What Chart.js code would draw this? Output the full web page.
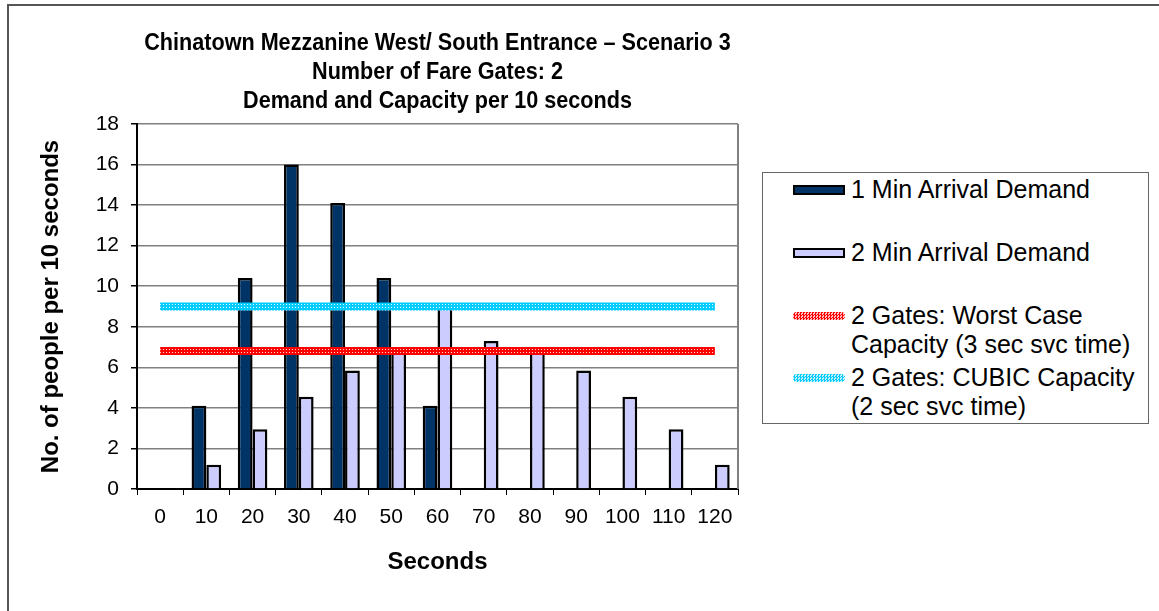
<!DOCTYPE html>
<html>
<head>
<meta charset="utf-8">
<script src="https://cdn.jsdelivr.net/npm/chart.js@4/dist/chart.umd.min.js"></script>
<style>
  html, body { margin: 0; padding: 0; background: #fff; }
  #wrap { position: relative; width: 1159px; height: 611px; overflow: hidden; font-family: "Liberation Sans", Arial, sans-serif; }
  #frame { position: absolute; left: 7px; top: 4px; width: 1200px; height: 700px; border-left: 2px solid #555; border-top: 2px solid #555; box-sizing: border-box; }
  canvas { position: absolute; left: 0; top: 0; }
  #legend { position: absolute; left: 762px; top: 172px; width: 387px; height: 252px; border: 1px solid #666; box-sizing: border-box; background: #fff; }
  .item { position: absolute; left: 30px; font-size: 25px; line-height: 29px; color: #000; white-space: nowrap; }
  .sw { position: absolute; left: 0; width: 52px; height: 10px; box-sizing: border-box; }
  .txt { position: absolute; left: 58px; top: 0; }
</style>
</head>
<body>
<div id="wrap">
  <div id="frame"></div>
  <canvas id="c" width="1159" height="611"></canvas>
  <div id="legend"></div>
</div>
<script>
const titleLines = ["Chinatown Mezzanine West/ South Entrance \u2013 Scenario 3", "Number of Fare Gates: 2", "Demand and Capacity per 10 seconds"];
const categories = ["0","10","20","30","40","50","60","70","80","90","100","110","120"];
const oneMinDemand = [0, 4.1, 10.4, 16, 14.1, 10.4, 4.1, 0, 0, 0, 0, 0, 0];
const twoMinDemand = [0, 1.2, 2.95, 4.55, 5.85, 6.8, 9.15, 7.3, 6.8, 5.85, 4.55, 2.95, 1.2];
const worstCaseCapacity = [6.8, 6.8, 6.8, 6.8, 6.8, 6.8, 6.8, 6.8, 6.8, 6.8, 6.8, 6.8, 6.8];
const cubicCapacity = [9, 9, 9, 9, 9, 9, 9, 9, 9, 9, 9, 9, 9];
const seriesNames = ["1 Min Arrival Demand", "2 Min Arrival Demand", "2 Gates: Worst Case\nCapacity (3 sec svc time)", "2 Gates: CUBIC Capacity\n(2 sec svc time)"];
const yTicks = [0, 2, 4, 6, 8, 10, 12, 14, 16, 18];

function checker(c1, c2) {
  const p = document.createElement('canvas');
  p.width = 3; p.height = 3;
  const g = p.getContext('2d');
  g.fillStyle = c1; g.fillRect(0,0,3,3);
  g.fillStyle = c2; g.fillRect(1,1,1,1);
  return g.createPattern(p, 'repeat');
}
const redPat = checker('#ff0000', '#ffe0e0');
const cyanPat = checker('#00ccff', '#e0f8ff');

const FONT = "'Liberation Sans', Arial, sans-serif";

const titlePlugin = {
  id: 'titleLines',
  afterDraw(chart) {
    const ctx = chart.ctx, a = chart.chartArea;
    const cx = (a.left + a.right) / 2;
    ctx.save();
    ctx.fillStyle = '#000';
    ctx.font = "bold 24px " + FONT;
    ctx.textAlign = 'center';
    ctx.textBaseline = 'middle';
    const ys = [a.top - 81, a.top - 52, a.top - 23];
    ctx.scale(0.9, 1);
    titleLines.forEach((t, i) => ctx.fillText(t, cx / 0.9, ys[i]));
    ctx.restore();
  }
};

const chart = new Chart(document.getElementById('c'), {
  data: {
    labels: categories,
    datasets: [
      { type: 'bar', label: seriesNames[0], data: oneMinDemand, backgroundColor: '#003366', borderColor: '#000', borderWidth: 2.5, categoryPercentage: 0.64, barPercentage: 1.0, order: 2 },
      { type: 'bar', label: seriesNames[1], data: twoMinDemand, backgroundColor: '#ccccff', borderColor: '#000', borderWidth: 2.5, categoryPercentage: 0.64, barPercentage: 1.0, order: 2 },
      { type: 'line', label: seriesNames[2], data: worstCaseCapacity, borderColor: redPat, borderWidth: 8, pointRadius: 0, borderCapStyle: 'butt', fill: false, order: 1 },
      { type: 'line', label: seriesNames[3], data: cubicCapacity, borderColor: cyanPat, borderWidth: 8, pointRadius: 0, borderCapStyle: 'butt', fill: false, order: 1 }
    ]
  },
  options: {
    responsive: false,
    animation: false,
    devicePixelRatio: 1,
    layout: { padding: { top: 124, right: 421, bottom: 10, left: 37 } },
    plugins: { legend: { display: false }, tooltip: { enabled: false } },
    scales: {
      x: {
        offset: true,
        grid: { display: true, drawOnChartArea: false, offset: true, color: '#000', tickLength: 6, lineWidth: 1 },
        border: { display: true, color: '#000', width: 2 },
        ticks: { color: '#000', font: { family: FONT, size: 21 }, padding: 10, maxRotation: 0, autoSkip: false },
        title: { display: true, text: 'Seconds', color: '#000', font: { family: FONT, size: 24, weight: 'bold' }, padding: { top: 10, bottom: 24 } },
        afterFit(s) { s.height = 611 - 489 - 10; }
      },
      y: {
        min: 0, max: 18,
        afterBuildTicks(s) { s.ticks = yTicks.map(v => ({ value: v })); },
        grid: { color: '#808080', lineWidth: 1.5, tickLength: 6, tickColor: '#000' },
        border: { display: true, color: '#000', width: 2 },
        ticks: { color: '#000', font: { family: FONT, size: 21 }, padding: 12 },
        title: { display: true, text: 'No. of people per 10 seconds', color: '#000', font: { family: FONT, size: 24, weight: 'bold' }, padding: { top: 0, bottom: 10 } },
        afterFit(s) { s.width = 137 - 37; }
      }
    }
  },
  plugins: [titlePlugin, {
    id: 'rightBorder',
    beforeDatasetsDraw(chart) {
      const ctx = chart.ctx, a = chart.chartArea;
      ctx.save();
      ctx.strokeStyle = '#808080'; ctx.lineWidth = 2;
      ctx.beginPath(); ctx.moveTo(a.right, a.top); ctx.lineTo(a.right, a.bottom); ctx.stroke();
      ctx.restore();
    }
  }]
});

// HTML legend built from datasets
const legend = document.getElementById('legend');
const tops = [2, 65, 128, 190];
const swatchStyles = [
  'background:#003366;border:2px solid #000;',
  'background:#ccccff;border:2px solid #000;',
  'background:repeating-conic-gradient(#ff0000 0% 25%, #ffc0c0 0% 50%) 0 0/3px 3px;height:8px;border-radius:4px;',
  'background:repeating-conic-gradient(#00ccff 0% 25%, #c0f0ff 0% 50%) 0 0/3px 3px;height:8px;border-radius:4px;'
];
chart.data.datasets.forEach((ds, i) => {
  const it = document.createElement('div');
  it.className = 'item';
  it.style.top = tops[i] + 'px';
  const sw = document.createElement('div');
  sw.className = 'sw';
  sw.style.cssText = swatchStyles[i] + 'top:' + (i < 2 ? 10 : 11) + 'px;';
  const tx = document.createElement('div');
  tx.className = 'txt';
  tx.innerHTML = ds.label.split('\n').join('<br>');
  it.appendChild(sw); it.appendChild(tx);
  legend.appendChild(it);
});
</script>
</body>
</html>
